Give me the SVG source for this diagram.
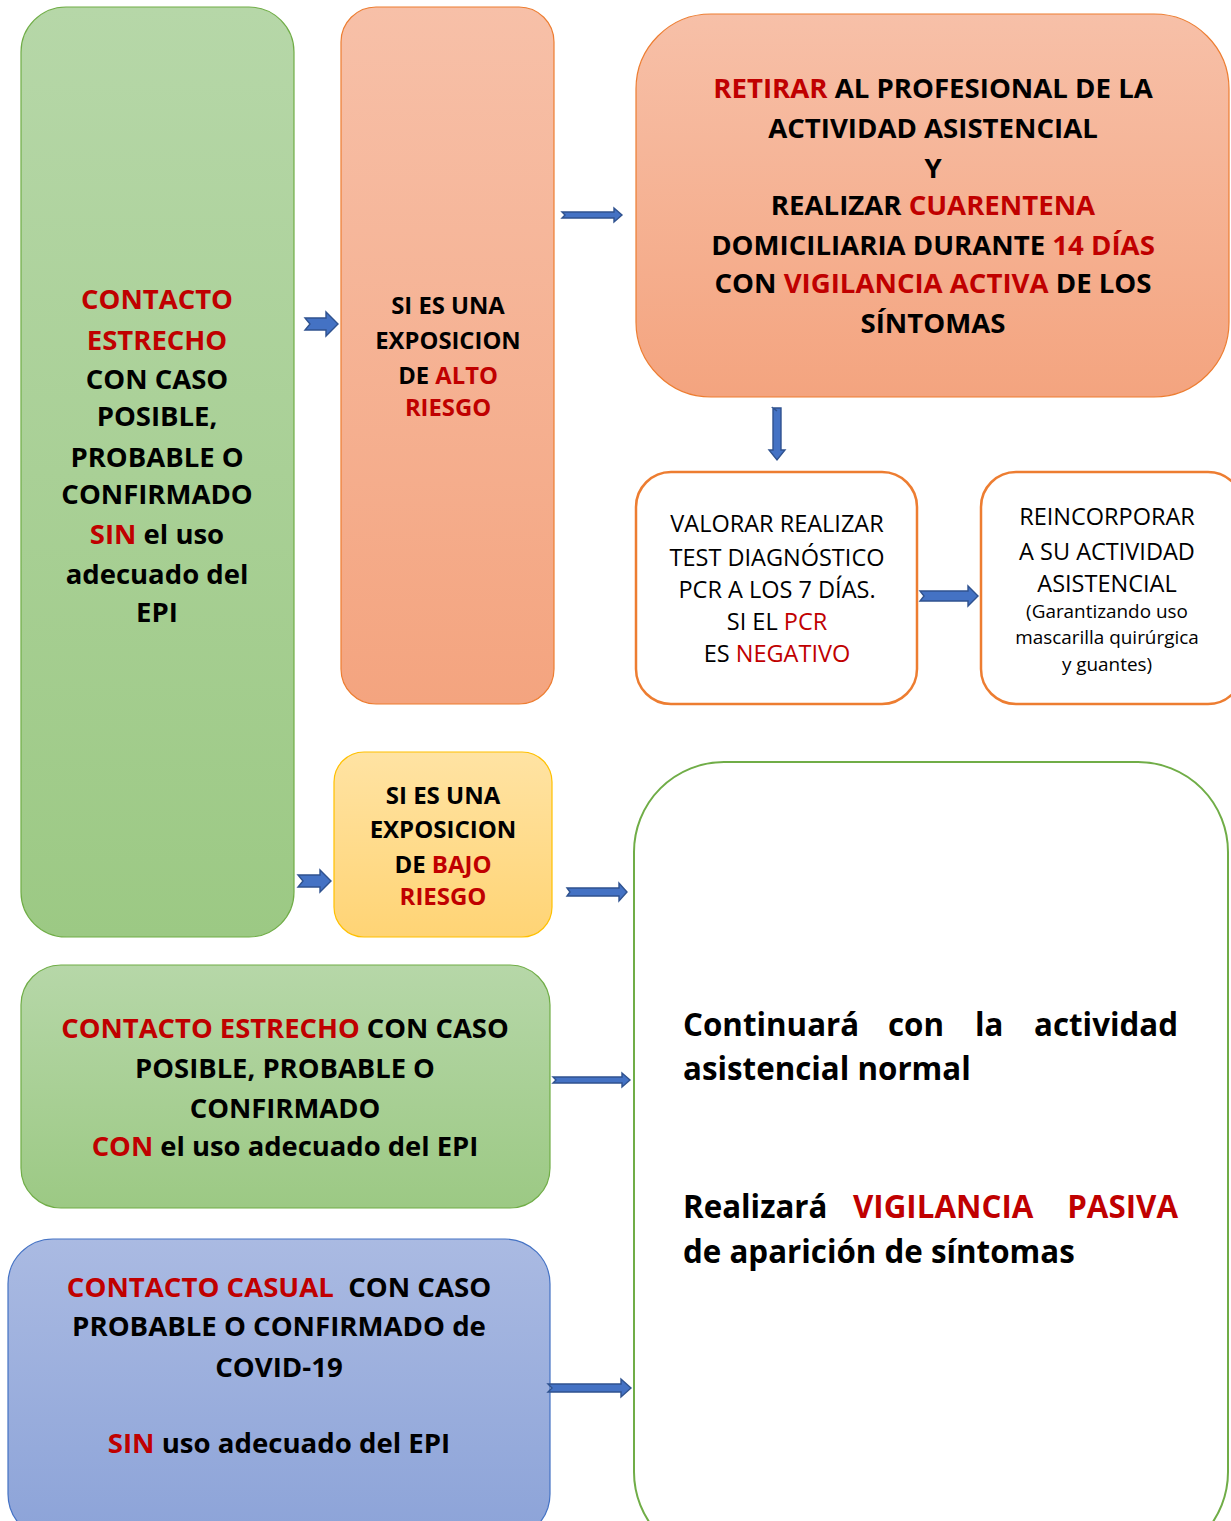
<svg xmlns="http://www.w3.org/2000/svg" width="1231" height="1521" viewBox="0 0 1231 1521">
<defs>
<linearGradient id="gGreen" x1="0" y1="0" x2="0" y2="1"><stop offset="0" stop-color="#B6D7A8"/><stop offset="1" stop-color="#9CC984"/></linearGradient>
<linearGradient id="gSalmon" x1="0" y1="0" x2="0" y2="1"><stop offset="0" stop-color="#F7C0A8"/><stop offset="1" stop-color="#F4A47F"/></linearGradient>
<linearGradient id="gYellow" x1="0" y1="0" x2="0" y2="1"><stop offset="0" stop-color="#FFE3A3"/><stop offset="1" stop-color="#FFD475"/></linearGradient>
<linearGradient id="gBlue" x1="0" y1="0" x2="0" y2="1"><stop offset="0" stop-color="#AABAE2"/><stop offset="1" stop-color="#8CA3D8"/></linearGradient>
</defs>
<style>
text{font-family:"Open Sans","Liberation Sans",sans-serif;fill:#000;}
.b{font-weight:700;}
.c{text-anchor:middle;}
.r{fill:#C00000;}
.arr{fill:#4472C4;stroke:#2F528F;stroke-width:1.4;}
.green{fill:url(#gGreen);stroke:#70AD47;stroke-width:1.2;}
.salmon{fill:url(#gSalmon);stroke:#ED7D31;stroke-width:1.2;}
.yellow{fill:url(#gYellow);stroke:#FFC000;stroke-width:1.2;}
.blue{fill:url(#gBlue);stroke:#4472C4;stroke-width:1.2;}
.wo{fill:#fff;stroke:#ED7D31;stroke-width:2.5;}
.wg{fill:#fff;stroke:#70AD47;stroke-width:2;}
</style>

<g id="node-contacto-estrecho-sin">
<rect class="green" x="21" y="7" width="273" height="930" rx="45"/>
<g class="b c" font-size="27.5">
<text x="157" y="309" class="r">CONTACTO</text>
<text x="157" y="350" class="r">ESTRECHO</text>
<text x="157" y="389">CON CASO</text>
<text x="157" y="426">POSIBLE,</text>
<text x="157" y="467">PROBABLE O</text>
<text x="157" y="504">CONFIRMADO</text>
<text x="157" y="544"><tspan class="r">SIN</tspan> el uso</text>
<text x="157" y="584">adecuado del</text>
<text x="157" y="622">EPI</text>
</g>
</g>

<g id="node-alto-riesgo">
<rect class="salmon" x="341" y="7" width="213" height="697" rx="35"/>
<g class="b c" font-size="23.8">
<text x="448" y="313.5">SI ES UNA</text>
<text x="448" y="348.5">EXPOSICION</text>
<text x="448" y="383.5">DE <tspan class="r">ALTO</tspan></text>
<text x="448" y="415.5" class="r">RIESGO</text>
</g>
</g>

<g id="node-retirar">
<rect class="salmon" x="636" y="14" width="593" height="383" rx="75"/>
<g class="b c" font-size="27.6">
<text x="933" y="98"><tspan class="r">RETIRAR</tspan> AL PROFESIONAL DE LA</text>
<text x="933" y="138">ACTIVIDAD ASISTENCIAL</text>
<text x="933" y="178">Y</text>
<text x="933" y="215">REALIZAR <tspan class="r">CUARENTENA</tspan></text>
<text x="933" y="255">DOMICILIARIA DURANTE <tspan class="r">14 DÍAS</tspan></text>
<text x="933" y="293">CON <tspan class="r">VIGILANCIA ACTIVA</tspan> DE LOS</text>
<text x="933" y="333">SÍNTOMAS</text>
</g>
</g>

<g id="node-valorar">
<rect class="wo" x="636" y="472" width="281" height="232" rx="35"/>
<g class="c" font-size="23.5">
<text x="777" y="531.5">VALORAR REALIZAR</text>
<text x="777" y="566">TEST DIAGNÓSTICO</text>
<text x="777" y="597.5">PCR A LOS 7 DÍAS.</text>
<text x="777" y="629.5">SI EL <tspan class="r">PCR</tspan></text>
<text x="777" y="661.5">ES <tspan class="r">NEGATIVO</tspan></text>
</g>
</g>

<g id="node-reincorporar">
<rect class="wo" x="981" y="472" width="262" height="232" rx="35"/>
<g class="c">
<text x="1107" y="524.5" font-size="23.5">REINCORPORAR</text>
<text x="1107" y="559.5" font-size="23.5">A SU ACTIVIDAD</text>
<text x="1107" y="591.5" font-size="23.5">ASISTENCIAL</text>
<text x="1107" y="617.5" font-size="18.9">(Garantizando uso</text>
<text x="1107" y="643.5" font-size="18.9">mascarilla quirúrgica</text>
<text x="1107" y="670.5" font-size="18.9">y guantes)</text>
</g>
</g>

<g id="node-bajo-riesgo">
<rect class="yellow" x="334" y="752" width="218" height="185" rx="30"/>
<g class="b c" font-size="24">
<text x="443" y="803.5">SI ES UNA</text>
<text x="443" y="837.5">EXPOSICION</text>
<text x="443" y="872.5">DE <tspan class="r">BAJO</tspan></text>
<text x="443" y="904.5" class="r">RIESGO</text>
</g>
</g>

<g id="node-contacto-estrecho-con">
<rect class="green" x="21" y="965" width="529" height="243" rx="40"/>
<g class="b c" font-size="27.4">
<text x="285" y="1038"><tspan class="r">CONTACTO ESTRECHO</tspan> CON CASO</text>
<text x="285" y="1078">POSIBLE, PROBABLE O</text>
<text x="285" y="1118">CONFIRMADO</text>
<text x="285" y="1156"><tspan class="r">CON</tspan> el uso adecuado del EPI</text>
</g>
</g>

<g id="node-contacto-casual">
<rect class="blue" x="8" y="1239" width="542" height="300" rx="45"/>
<g class="b c" font-size="27.6">
<text x="279" y="1297"><tspan class="r">CONTACTO CASUAL</tspan>&#160; CON CASO</text>
<text x="279" y="1336">PROBABLE O CONFIRMADO de</text>
<text x="279" y="1377">COVID-19</text>
<text x="279" y="1453"><tspan class="r">SIN</tspan> uso adecuado del EPI</text>
</g>
</g>

<g id="node-continuara">
<rect class="wg" x="634" y="762" width="594" height="800" rx="90"/>
<g class="b" font-size="31.3">
<text x="683" y="1036">Continuará</text>
<text x="888" y="1036">con</text>
<text x="975" y="1036">la</text>
<text x="1178" y="1036" text-anchor="end">actividad</text>
<text x="683" y="1080">asistencial normal</text>
<text x="683" y="1218">Realizará</text>
<text x="853" y="1218" class="r">VIGILANCIA</text>
<text x="1178" y="1218" class="r" text-anchor="end">PASIVA</text>
<text x="683" y="1263">de aparición de síntomas</text>
</g>
</g>

<g id="connectors">
<path class="arr" d="M305,318 L326,318 L326,312 L338,324 L326,336 L326,330 L305,330 L310,324 Z"/>
<path class="arr" d="M562,212 L614,212 L614,208 L622,215 L614,222 L614,218 L562,218 L565,215 Z"/>
<path class="arr" d="M773,408 L781,408 L781,450 L785,450 L777,460 L769,450 L773,450 L773,408 L777,411 Z"/>
<path class="arr" d="M920,591 L968,591 L968,586 L978,596 L968,606 L968,601 L920,601 L924,596 Z"/>
<path class="arr" d="M298,875 L320,875 L320,870 L331,881 L320,892 L320,887 L298,887 L303,881 Z"/>
<path class="arr" d="M567,888 L619,888 L619,883 L627,892 L619,901 L619,896 L567,896 L570,892 Z"/>
<path class="arr" d="M553,1077 L622,1077 L622,1073 L630,1080 L622,1087 L622,1083 L553,1083 L556,1080 Z"/>
<path class="arr" d="M548,1384 L621,1384 L621,1379 L631,1388 L621,1397 L621,1392 L548,1392 L552,1388 Z"/>
</g>
</svg>
